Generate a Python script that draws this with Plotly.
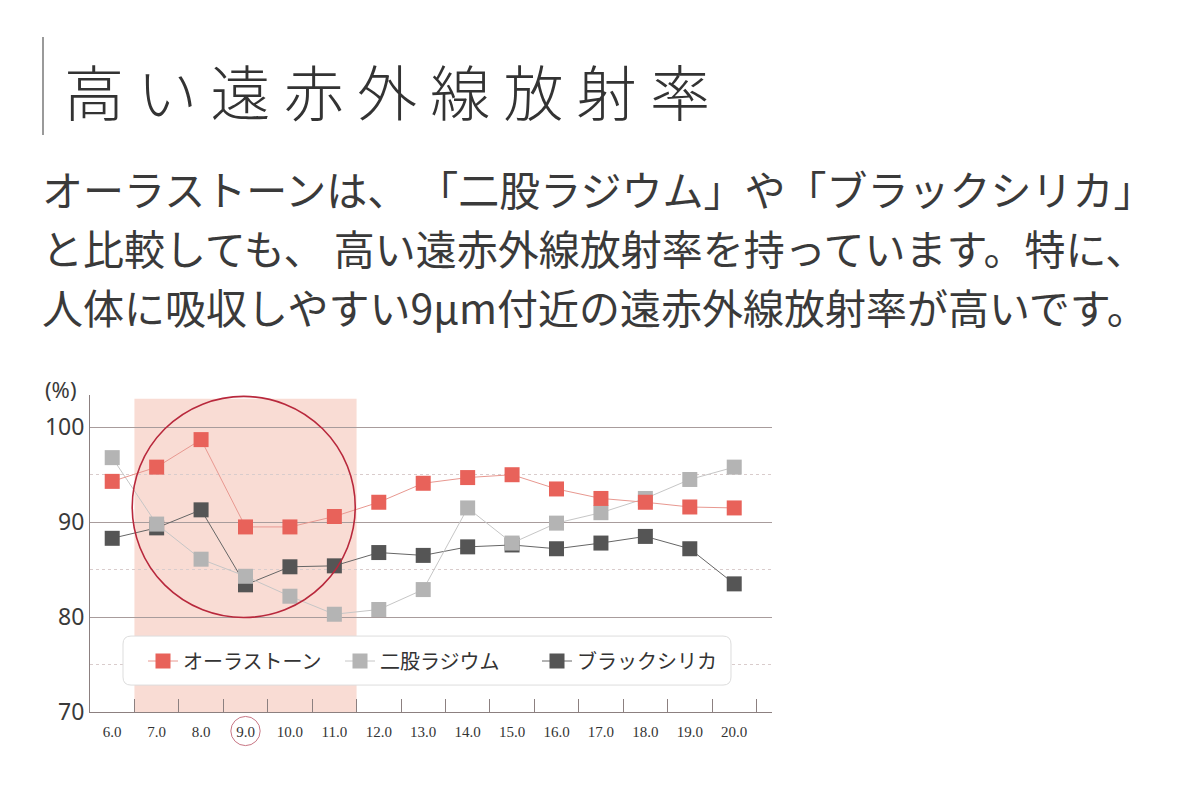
import plotly.graph_objects as go

# wavelength (µm) and emissivity (%)
wavelengths = [6.0, 7.0, 8.0, 9.0, 10.0, 11.0, 12.0, 13.0, 14.0, 15.0, 16.0, 17.0, 18.0, 19.0, 20.0]
tick_labels = ["6.0", "7.0", "8.0", "9.0", "10.0", "11.0", "12.0", "13.0",
               "14.0", "15.0", "16.0", "17.0", "18.0", "19.0", "20.0"]

aura_stone = [94.3, 95.8, 98.7, 89.5, 89.5, 90.6, 92.1, 94.1, 94.7, 95.0, 93.5, 92.5, 92.1, 91.6, 91.5]
futamata_radium = [96.8, 89.8, 86.1, 84.3, 82.2, 80.3, 80.8, 82.9, 91.5, 87.8, 89.9, 91.0, 92.5, 94.5, 95.8]
black_silica = [88.3, 89.4, 91.3, 83.4, 85.3, 85.4, 86.8, 86.5, 87.4, 87.6, 87.2, 87.8, 88.5, 87.2, 83.5]

series_names = ["オーラストーン", "二股ラジウム", "ブラックシリカ"]

title_text = "高 い 遠 赤 外 線 放 射 率"
body_lines = [
    "オーラストーンは、 「二股ラジウム」や「ブラックシリカ」",
    "と比較しても、 高い遠赤外線放射率を持っています。特に、",
    "人体に吸収しやすい9µm付近の遠赤外線放射率が高いです。",
]

# page body has an 8px margin, so the figure is drawn 8px in from the window edge
OFF = 8
# plot area in window pixels: left 90, right 772, top 395, bottom 712
L, R, T, B = 90, 772, 395, 712
W, H = 1200 - OFF * 2, 800 - OFF * 2


def px_x(p):
    return (p - L) / (R - L)


def px_y(p):
    return (B - p) / (B - T)


fig = go.Figure()

# draw order: dark first so the lighter series sit on top
fig.add_trace(go.Scatter(
    x=wavelengths, y=black_silica, name=series_names[2], mode="lines+markers",
    line=dict(color="#666666", width=1),
    marker=dict(symbol="square", size=15, color="#555555"),
    legendrank=3,
))
fig.add_trace(go.Scatter(
    x=wavelengths, y=futamata_radium, name=series_names[1], mode="lines+markers",
    line=dict(color="#c6c6c6", width=1),
    marker=dict(symbol="square", size=15, color="#b4b4b4"),
    legendrank=2,
))
fig.add_trace(go.Scatter(
    x=wavelengths, y=aura_stone, name=series_names[0], mode="lines+markers",
    line=dict(color="#e89890", width=1),
    marker=dict(symbol="square", size=15, color="#e8625a"),
    legendrank=1,
))

shapes = []
# shaded band 6.5–11.5 µm
shapes.append(dict(type="rect", xref="x", yref="y", x0=6.5, x1=11.5, y0=70, y1=103,
                   fillcolor="#f9dcd4", line=dict(width=0), layer="below"))
# big highlight circle
shapes.append(dict(type="circle", xref="x", yref="y", x0=6.45, x1=11.47, y0=79.95, y1=103.25,
                   line=dict(color="#b8283c", width=1.6), layer="above"))
# small circle round the 9.0 label
shapes.append(dict(type="circle", xref="x", yref="paper", x0=8.67, x1=9.33, y0=-0.106, y1=-0.014,
                   line=dict(color="#c87684", width=1)))
# rounded legend box
x0, x1 = 6.243, 19.927
y0, y1 = 72.84, 78.0
rx, ry = 0.18, 0.84
path = (f"M {x0+rx},{y0} L {x1-rx},{y0} Q {x1},{y0} {x1},{y0+ry} "
        f"L {x1},{y1-ry} Q {x1},{y1} {x1-rx},{y1} L {x0+rx},{y1} "
        f"Q {x0},{y1} {x0},{y1-ry} L {x0},{y0+ry} Q {x0},{y0} {x0+rx},{y0} Z")
shapes.append(dict(type="path", xref="x", yref="y", path=path,
                   fillcolor="white", line=dict(color="#dddddd", width=1), layer="above"))
# vertical bar beside the heading
shapes.append(dict(type="line", xref="paper", yref="paper",
                   x0=px_x(43), x1=px_x(43), y0=px_y(37), y1=px_y(135),
                   line=dict(color="#9a9a9a", width=2)))

annotations = []
annotations.append(dict(text=title_text, xref="paper", yref="paper", x=px_x(62), y=px_y(89),
                        xanchor="left", yanchor="middle", showarrow=False,
                        font=dict(family="Noto Sans CJK JP", size=60, color="#333333", weight=300)))
for i, line in enumerate(body_lines):
    annotations.append(dict(text=line, xref="paper", yref="paper", x=px_x(40), y=px_y(188 + 59 * i),
                            xanchor="left", yanchor="middle", showarrow=False,
                            font=dict(family="Noto Sans CJK JP", size=41, color="#3a3a3a")))
annotations.append(dict(text="(%)", xref="paper", yref="paper", x=px_x(60), y=px_y(389),
                        xanchor="center", yanchor="middle", showarrow=False,
                        font=dict(family="Noto Sans", size=22, color="#3a3a3a")))

fig.update_layout(
    width=W, height=H,
    margin=dict(l=L - OFF, r=W - (R - OFF), t=T - OFF, b=H - (B - OFF)),
    paper_bgcolor="white", plot_bgcolor="white",
    shapes=shapes, annotations=annotations,
    legend=dict(orientation="h", x=px_x(143), y=px_y(661), xanchor="left", yanchor="middle",
                bgcolor="rgba(0,0,0,0)", font=dict(family="Noto Sans CJK JP", size=20, color="#333333"),
                entrywidth=152, entrywidthmode="pixels"),
    xaxis=dict(range=[5.5, 20.85], tickvals=wavelengths, ticktext=tick_labels, ticks="",
               showgrid=False, zeroline=False, showline=True, linecolor="#8c8080", linewidth=1,
               ticklabelstandoff=6,
               tickfont=dict(family="Liberation Serif", size=15, color="#333333"),
               minor=dict(tickvals=[w + 0.5 for w in wavelengths], ticks="inside", ticklen=13,
                          tickcolor="#8c8080", tickwidth=1, showgrid=False)),
    yaxis=dict(range=[70, 103.4], tickvals=[70, 80, 90, 100], ticks="",
               showgrid=True, gridcolor="#a89c9c", gridwidth=1, zeroline=False,
               showline=True, linecolor="#8c8080", linewidth=1,
               tickfont=dict(family="Noto Sans", size=23, color="#3a3a3a"),
               minor=dict(tickvals=[75, 85, 95], showgrid=True, gridcolor="#d9cccc",
                          griddash="dot", gridwidth=1, ticks="")),
    showlegend=True,
)

fig.write_html("out.html")
